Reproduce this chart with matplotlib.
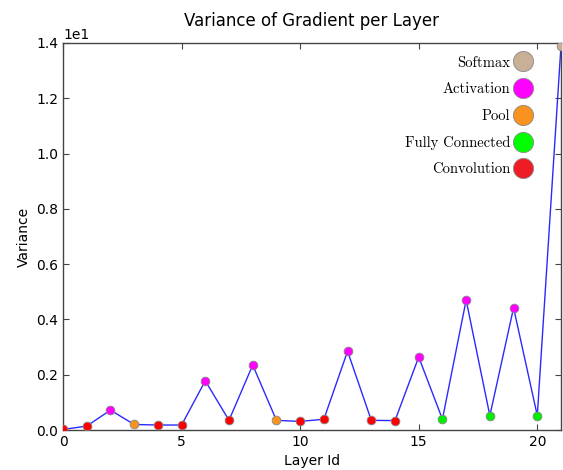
import matplotlib
matplotlib.use("Agg")
import matplotlib.pyplot as plt
from matplotlib.lines import Line2D
from matplotlib.ticker import ScalarFormatter

# Per-layer gradient variance
layers = list(range(22))
variance = [0.02, 0.14, 0.72, 0.20, 0.18, 0.18, 1.78, 0.35, 2.35, 0.35, 0.31,
            0.39, 2.85, 0.35, 0.34, 2.64, 0.39, 4.70, 0.52, 4.42, 0.52, 13.9]
layer_types = ["Convolution", "Convolution", "Activation", "Pool", "Convolution",
               "Convolution", "Activation", "Convolution", "Activation", "Pool",
               "Convolution", "Convolution", "Activation", "Convolution",
               "Convolution", "Activation", "Fully Connected", "Activation",
               "Fully Connected", "Activation", "Fully Connected", "Softmax"]

type_order = ["Softmax", "Activation", "Pool", "Fully Connected", "Convolution"]
type_colors = {"Softmax": "#c8af96", "Activation": "#ff00ff", "Pool": "#f7931e",
               "Fully Connected": "#00ff00", "Convolution": "#ee1c24"}
point_colors = {"Softmax": "#c8af96", "Activation": "#ff00ff", "Pool": "#f7931e",
                "Fully Connected": "#00ee00", "Convolution": "#ff0000"}

fig = plt.figure(figsize=(5.63, 4.70), dpi=100)
ax = fig.add_axes([63 / 563, 1 - 430 / 470, (561 - 63) / 563, (430 - 43) / 470])

ax.plot(layers, variance, color="#2a2aff", lw=1.0, zorder=2)
for x, y, t in zip(layers, variance, layer_types):
    ax.plot(x, y, "o", ms=6.3, mfc=point_colors[t], mec="#888888", mew=0.6, zorder=3)

ax.set_xlim(0, 21)
ax.set_ylim(0, 14)
ax.set_xticks([0, 5, 10, 15, 20])
ax.set_yticks([0, 2, 4, 6, 8, 10, 12, 14])
fmt = ScalarFormatter(useMathText=False)
fmt.set_powerlimits((0, 0))
ax.yaxis.set_major_formatter(fmt)
ax.yaxis.get_offset_text().set_fontsize(10)

ax.tick_params(direction="in", top=True, right=True, length=4, width=0.8,
               color="#444444", labelsize=10)
for s in ax.spines.values():
    s.set_color("#444444")
    s.set_linewidth(1.0)

ax.set_xlabel("Layer Id", fontsize=10)
ax.set_ylabel("Variance", fontsize=10)
ax.set_title("Variance of Gradient per Layer", fontsize=12, pad=12)

handles = [Line2D([], [], ls="none", marker="o", ms=14.5, mfc=type_colors[t],
                  mec="#888888", mew=0.6) for t in type_order]
leg = ax.legend(handles, type_order, loc="upper right", frameon=False,
                markerfirst=False, prop={"family": "cmr10", "size": 10.5},
                labelspacing=0.88, handletextpad=0.25, borderaxespad=0.0,
                handlelength=1.2, bbox_to_anchor=(0.952, 0.982))

fig.savefig("out.png", dpi=100)
